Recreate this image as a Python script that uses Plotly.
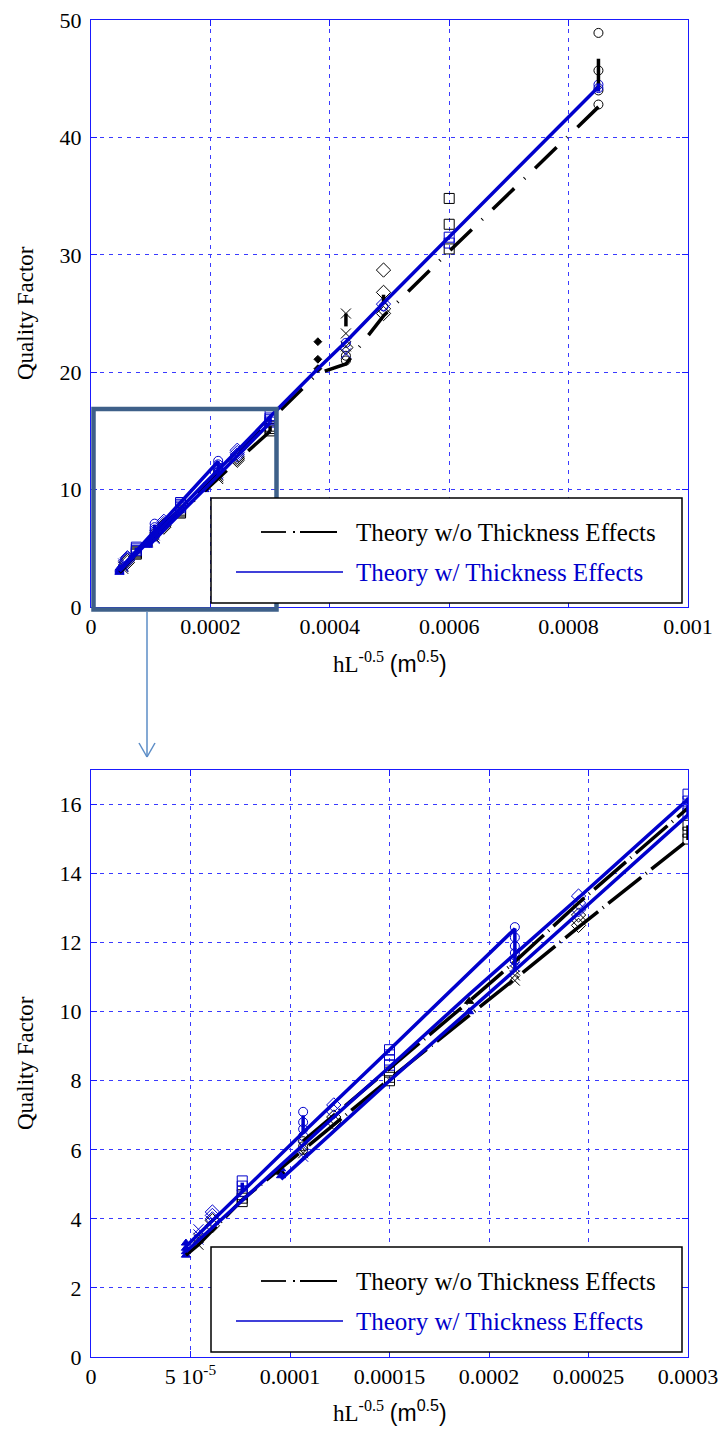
import plotly.graph_objects as go

W, H = 718, 1437

# ---------------- measured / computed points ----------------
# open circles
circ_k_x = [1.066e-4, 1.066e-4, 1.066e-4, 4.27e-4, 4.27e-4, 8.5e-4, 8.5e-4, 8.5e-4, 8.5e-4]
circ_k_y = [6.0, 6.1, 6.25, 21.0, 21.4, 42.8, 44.0, 45.7, 48.9]
circ_b_x = [1.066e-4, 1.066e-4, 1.066e-4, 1.066e-4, 2.13e-4, 2.13e-4, 2.13e-4, 2.13e-4, 2.13e-4,
            4.27e-4, 4.9e-4, 8.5e-4, 8.5e-4]
circ_b_y = [6.4, 6.6, 6.8, 7.1, 11.5, 11.7, 11.9, 12.15, 12.45, 22.5, 25.6, 44.2, 44.5]

# open squares
sq_k_x = [7.6e-5, 7.6e-5, 7.6e-5, 1.5e-4, 1.5e-4, 1.5e-4, 3.0e-4, 3.0e-4, 3.0e-4, 6.0e-4, 6.0e-4, 6.0e-4]
sq_k_y = [4.5, 4.6, 4.7, 8.0, 8.1, 8.25, 15.0, 15.2, 15.4, 30.5, 32.6, 34.8]
sq_b_x = [7.6e-5, 7.6e-5, 7.6e-5, 1.5e-4, 1.5e-4, 1.5e-4, 1.5e-4, 3.0e-4, 3.0e-4, 3.0e-4, 3.0e-4,
          6.0e-4, 6.0e-4]
sq_b_y = [4.8, 4.95, 5.1, 8.45, 8.6, 8.75, 8.9, 15.75, 15.95, 16.1, 16.3, 31.0, 31.5]

# open diamonds
dia_k_x = [6.1e-5, 6.1e-5, 1.22e-4, 1.22e-4, 2.45e-4, 2.45e-4, 2.45e-4, 4.27e-4, 4.9e-4, 4.9e-4, 4.9e-4, 4.9e-4]
dia_k_y = [3.8, 3.95, 6.8, 6.95, 12.5, 12.65, 12.8, 22.1, 25.0, 25.4, 26.8, 28.7]
dia_b_x = [6.1e-5, 6.1e-5, 6.1e-5, 1.22e-4, 1.22e-4, 2.45e-4, 2.45e-4, 2.45e-4, 4.9e-4]
dia_b_y = [4.0, 4.1, 4.2, 7.1, 7.3, 12.95, 13.15, 13.35, 25.8]

# crosses
x_k_x = [5.4e-5, 5.4e-5, 1.066e-4, 2.13e-4, 2.13e-4, 2.13e-4, 4.27e-4, 4.27e-4, 4.27e-4]
x_k_y = [3.25, 3.45, 5.9, 10.9, 11.05, 11.2, 22.2, 23.3, 25.0]
x_b_x = [5.4e-5, 5.4e-5, 5.4e-5, 1.066e-4, 1.066e-4, 2.13e-4, 2.13e-4, 4.27e-4]
x_b_y = [3.4, 3.55, 3.7, 5.8, 6.1, 11.3, 11.45, 21.6]

# filled triangles
tri_k_x = [9.55e-5, 1.9e-4]
tri_k_y = [5.35, 10.3]
tri_b_x = [4.77e-5, 4.77e-5, 4.77e-5, 4.77e-5, 9.55e-5, 9.55e-5, 1.9e-4]
tri_b_y = [2.95, 3.05, 3.15, 3.3, 5.25, 5.45, 10.0]

# small filled diamonds
dot_k_x = [3.8e-4, 3.8e-4, 3.8e-4]
dot_k_y = [20.3, 21.1, 22.6]

# theory without thickness effects (segments split by None)
thin_x = [4.77e-5, 5.4e-5, 7.6e-5, 1.066e-4, 1.5e-4, 2.13e-4, 2.45e-4, 3.0e-4, None,
          1.066e-4, 1.5e-4, 1.9e-4, 2.13e-4, 2.45e-4, 3.0e-4, 3.8e-4, 4.27e-4, 4.9e-4, 6.0e-4, 8.5e-4, None,
          3.0e-4, 3.0e-4, None, 4.27e-4, 4.27e-4, None, 4.9e-4, 4.9e-4, None, 8.5e-4, 8.5e-4]
thin_y = [2.95, 3.25, 4.55, 6.0, 8.05, 10.95, 12.45, 14.97, None,
          6.25, 8.35, 10.3, 11.45, 13.15, 15.9, 19.9, 20.7, 24.8, 30.3, 42.6, None,
          14.97, 15.4, None, 23.9, 25.0, None, 25.8, 26.6, None, 44.2, 46.7]

# theory with thickness effects
thick_x = [4.77e-5, 7.6e-5, 1.066e-4, 1.5e-4, 2.13e-4, 2.13e-4, 3.0e-4, None,
           4.77e-5, 6.1e-5, 9.55e-5, 1.22e-4, 1.5e-4, 1.9e-4, 2.45e-4, 3.0e-4, 3.8e-4, 4.27e-4, 4.9e-4,
           6.0e-4, 8.5e-4, None,
           9.55e-5, 1.22e-4, 1.5e-4, 2.13e-4, None,
           7.6e-5, 7.6e-5, None, 1.066e-4, 1.066e-4, None, 3.0e-4, 3.0e-4, None, 8.5e-4, 8.5e-4]
thick_y = [3.2, 4.8, 6.5, 8.9, 12.4, 11.2, 15.7, None,
           3.05, 3.75, 5.55, 6.95, 8.4, 10.5, 13.3, 16.2, 20.3, 22.6, 25.9, 31.5, 44.3, None,
           5.15, 6.55, 8.0, 11.2, None,
           4.8, 5.05, None, 6.5, 7.0, None, 15.7, 16.2, None, 43.9, 44.6]

# axis ticks
top_xticks = [0, 0.0002, 0.0004, 0.0006, 0.0008, 0.001]
top_xtext = ["0", "0.0002", "0.0004", "0.0006", "0.0008", "0.001"]
top_yticks = [0, 10, 20, 30, 40, 50]
bot_xticks = [0, 5e-5, 1e-4, 1.5e-4, 2e-4, 2.5e-4, 3e-4]
bot_xtext = ["0", "5 10<sup>-5</sup>", "0.0001", "0.00015", "0.0002", "0.00025", "0.0003"]
bot_yticks = [0, 2, 4, 6, 8, 10, 12, 14, 16]

legend_labels = ["Theory w/o Thickness Effects", "Theory w/ Thickness Effects"]
x_title = "hL<sup>-0.5</sup> <span style='font-family:Liberation Sans'>(m<sup>0.5</sup>)</span>"
y_title = "Quality Factor"

# ---------------- styling ----------------
SERIF = "Liberation Serif"
BLUE = "#0000cc"
GRID = "#3a3aff"
AXIS = "#1a1aff"
BOX = "#3e6089"
ARROW = "#5b8cc6"


def px(xp):
    return xp / W


def py(yp):
    return 1 - yp / H


fig = go.Figure()

marker_sets = [
    (circ_k_x, circ_k_y, "circle-open", "black", 9),
    (circ_b_x, circ_b_y, "circle-open", BLUE, 9),
    (sq_k_x, sq_k_y, "square-open", "black", 10),
    (sq_b_x, sq_b_y, "square-open", BLUE, 10),
    (dia_k_x, dia_k_y, "diamond-open", "black", 11),
    (dia_b_x, dia_b_y, "diamond-open", BLUE, 11),
    (x_k_x, x_k_y, "x-thin-open", "black", 10),
    (x_b_x, x_b_y, "x-thin-open", BLUE, 10),
    (tri_k_x, tri_k_y, "triangle-up", "black", 8),
    (tri_b_x, tri_b_y, "triangle-up", BLUE, 8),
    (dot_k_x, dot_k_y, "diamond", "black", 6),
]

panels = [("x", "y", "30px,14px,1px,14px"), ("x2", "y2", "42px,6px,1px,6px")]
for xa, ya, dash in panels:
    for mx, my, sym, col, size in marker_sets:
        fig.add_trace(go.Scatter(
            x=mx, y=my, mode="markers", xaxis=xa, yaxis=ya, showlegend=False,
            marker=dict(symbol=sym, size=size, color=col, line=dict(color=col, width=1))))
    fig.add_trace(go.Scatter(
        x=thin_x, y=thin_y, mode="lines", xaxis=xa, yaxis=ya, showlegend=False,
        name=legend_labels[0], line=dict(color="black", width=3.5, dash=dash)))
    fig.add_trace(go.Scatter(
        x=thick_x, y=thick_y, mode="lines", xaxis=xa, yaxis=ya, showlegend=False,
        name=legend_labels[1], line=dict(color=BLUE, width=3.5)))

axis_common = dict(
    showline=True, linecolor=AXIS, linewidth=1, mirror="ticks",
    ticks="inside", ticklen=6, tickcolor=AXIS, tickwidth=1,
    showgrid=True, gridcolor=GRID, gridwidth=1, griddash="4px,5px",
    zeroline=False, automargin=False, ticklabeloverflow="allow",
    tickfont=dict(family=SERIF, size=22, color="black"),
)

xdom = [px(91), px(688)]
fig.update_layout(
    width=W, height=H, margin=dict(l=0, r=0, t=0, b=0, autoexpand=False),
    paper_bgcolor="white", plot_bgcolor="white", showlegend=False,
    font=dict(family=SERIF),
    xaxis=dict(domain=xdom, range=[0, 0.001], tickvals=top_xticks, ticktext=top_xtext,
               anchor="y", **axis_common),
    yaxis=dict(domain=[py(607), py(20)], range=[0, 50], tickvals=top_yticks,
               anchor="x", ticklabelstandoff=4, **axis_common),
    xaxis2=dict(domain=xdom, range=[0, 0.0003], tickvals=bot_xticks, ticktext=bot_xtext,
                anchor="y2", **axis_common),
    yaxis2=dict(domain=[py(1357), py(770)], range=[0, 17], tickvals=bot_yticks,
                anchor="x2", ticklabelstandoff=4, **axis_common),
)

shapes = []
annotations = []

# zoom region box and arrow linking the panels
shapes.append(dict(type="rect", xref="paper", yref="paper",
                   x0=px(93.5), x1=px(276.5), y0=py(609.5), y1=py(409),
                   line=dict(color=BOX, width=4.5), layer="above"))
shapes.append(dict(type="line", xref="paper", yref="paper",
                   x0=px(147), x1=px(147), y0=py(612), y1=py(757),
                   line=dict(color=ARROW, width=1.5)))
shapes.append(dict(type="line", xref="paper", yref="paper",
                   x0=px(139), x1=px(147), y0=py(743), y1=py(757),
                   line=dict(color=ARROW, width=1.5)))
shapes.append(dict(type="line", xref="paper", yref="paper",
                   x0=px(155), x1=px(147), y0=py(743), y1=py(757),
                   line=dict(color=ARROW, width=1.5)))

# hand-drawn legends inside each panel
for top in (498, 1247):
    shapes.append(dict(type="rect", xref="paper", yref="paper",
                       x0=px(211), x1=px(682), y0=py(top + 105), y1=py(top),
                       line=dict(color="black", width=1.5), fillcolor="white", layer="above"))
    y1 = top + 34
    y2 = top + 74
    for a, b in [(261, 286), (293, 295), (300, 337)]:
        shapes.append(dict(type="line", xref="paper", yref="paper",
                           x0=px(a), x1=px(b), y0=py(y1), y1=py(y1),
                           line=dict(color="black", width=1.8), layer="above"))
    shapes.append(dict(type="line", xref="paper", yref="paper",
                       x0=px(236), x1=px(343), y0=py(y2), y1=py(y2),
                       line=dict(color=BLUE, width=1.5), layer="above"))
    annotations.append(dict(xref="paper", yref="paper", x=px(354), y=py(y1),
                            xanchor="left", yanchor="middle", showarrow=False,
                            text=legend_labels[0],
                            font=dict(family=SERIF, size=25, color="black")))
    annotations.append(dict(xref="paper", yref="paper", x=px(354), y=py(y2),
                            xanchor="left", yanchor="middle", showarrow=False,
                            text=legend_labels[1],
                            font=dict(family=SERIF, size=25, color=BLUE)))

# axis titles
for yc, xc_title in ((313, 662), (1063, 1411)):
    annotations.append(dict(xref="paper", yref="paper", x=px(25), y=py(yc),
                            xanchor="center", yanchor="middle", showarrow=False,
                            text=y_title, textangle=-90,
                            font=dict(family=SERIF, size=23, color="black")))
    annotations.append(dict(xref="paper", yref="paper", x=px(390), y=py(xc_title),
                            xanchor="center", yanchor="middle", showarrow=False,
                            text=x_title,
                            font=dict(family=SERIF, size=23, color="black")))

fig.update_layout(shapes=shapes, annotations=annotations)
fig.write_html("out.html")
